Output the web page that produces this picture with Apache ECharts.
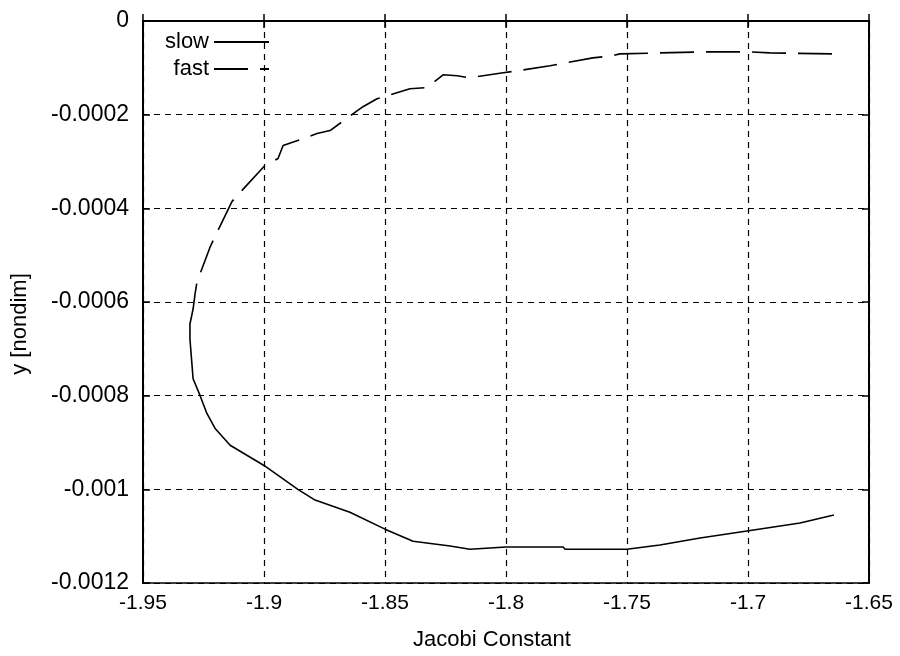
<!DOCTYPE html>
<html>
<head>
<meta charset="utf-8">
<script src="https://cdn.jsdelivr.net/npm/echarts@6/dist/echarts.min.js"></script>
<style>
html,body{margin:0;padding:0;background:#fff;}
#chart{width:900px;height:656px;}
</style>
</head>
<body>
<div id="chart"></div>
<script>
// Jacobi constant (x) and y [nondim] for the "fast" branch (dashed)
var fastX = [-1.6653, -1.6909, -1.6992, -1.7178, -1.7364, -1.7529, -1.7562, -1.7641, -1.7756, -1.7818,
             -1.7955, -1.8012, -1.8095, -1.8149, -1.8202, -1.8260, -1.8302, -1.8335, -1.8397, -1.8533,
             -1.8591, -1.8665, -1.8727, -1.8781, -1.8921, -1.8942, -1.9000, -1.9087, -1.9132, -1.9202,
             -1.9223, -1.9277, -1.9285];
var fastY = [-0.0000702, -0.0000681, -0.0000660, -0.0000660, -0.0000681, -0.0000702, -0.0000745, -0.0000787, -0.0000894, -0.0000957,
             -0.0001064, -0.0001106, -0.0001170, -0.0001213, -0.0001170, -0.0001149, -0.0001319, -0.0001426, -0.0001447, -0.0001660,
             -0.0001830, -0.0002106, -0.0002340, -0.0002404, -0.0002660, -0.0002936, -0.0003106, -0.0003596, -0.0003851, -0.0004596,
             -0.0004830, -0.0005574, -0.0005830];
// "slow" branch (solid)
var slowX = [-1.9285, -1.9293, -1.9306, -1.9306, -1.9293, -1.9264, -1.9236, -1.9202, -1.9140, -1.9000,
             -1.8860, -1.8789, -1.8645, -1.8500, -1.8384, -1.8231, -1.8149, -1.8000, -1.7764, -1.7756,
             -1.7500, -1.7364, -1.7198, -1.7004, -1.6785, -1.6645];
var slowY = [-0.000583, -0.000615, -0.000647, -0.000679, -0.000764, -0.000800, -0.000838, -0.000870, -0.000906, -0.000949,
             -0.001000, -0.001023, -0.001049, -0.001085, -0.001111, -0.001121, -0.001128, -0.001123, -0.001123, -0.001128,
             -0.001128, -0.001119, -0.001104, -0.001089, -0.001072, -0.001055];
var seriesNames = ['slow', 'fast'];
var xName = 'Jacobi Constant';
var yName = 'y [nondim]';

function pairs(xs, ys){ return xs.map(function(x,i){ return [x, ys[i]]; }); }

var FONT = 'Liberation Sans';
var chart = echarts.init(document.getElementById('chart'), null, {renderer:'canvas'});
var gridDash = {color:'#000', type:[6,5], width:1.2};
var legendBase = {orient:'vertical', right:630, align:'right', itemWidth:55, itemHeight:14, padding:0,
  itemStyle:{opacity:0}, textStyle:{fontFamily:FONT, fontSize:22, color:'#000'}};

chart.setOption({
  animation:false,
  backgroundColor:'#fff',
  grid:{left:143, right:31, top:21, bottom:71, show:true, borderColor:'#000', borderWidth:1.5, backgroundColor:'transparent'},
  legend:[
    Object.assign({data:[seriesNames[0]], top:31}, legendBase),
    Object.assign({data:[seriesNames[1]], top:58}, legendBase)
  ],
  xAxis:[{
    type:'value', min:-1.95, max:-1.65, interval:0.05,
    name:xName, nameLocation:'middle', nameGap:46,
    nameTextStyle:{fontFamily:FONT, fontSize:22, color:'#000', padding:[0,28,0,0]},
    axisLine:{lineStyle:{color:'#000', width:2}},
    axisTick:{inside:true, length:7, lineStyle:{color:'#000', width:1.5}},
    axisLabel:{fontFamily:FONT, fontSize:21, color:'#000', margin:10,
      formatter:function(v){ return String(+v.toFixed(2)); }},
    splitLine:{show:true, lineStyle:gridDash}
  },{
    type:'value', position:'top', min:-1.95, max:-1.65, interval:0.05,
    axisLine:{lineStyle:{color:'#000', width:1.5}},
    axisTick:{inside:true, length:7, lineStyle:{color:'#000', width:1.5}},
    axisLabel:{show:false}, splitLine:{show:false}
  }],
  yAxis:[{
    type:'value', min:-0.0012, max:0, interval:0.0002,
    name:yName, nameLocation:'middle', nameGap:112, nameRotate:90,
    nameTextStyle:{fontFamily:FONT, fontSize:22, color:'#000', padding:[0,44,0,0]},
    axisLine:{show:true, lineStyle:{color:'#000', width:2}},
    axisTick:{show:true, inside:true, length:7, lineStyle:{color:'#000', width:1.5}},
    axisLabel:{fontFamily:FONT, fontSize:23, color:'#000', margin:14,
      formatter:function(v){ return v === 0 ? '0' : String(+v.toFixed(4)); }},
    splitLine:{show:true, lineStyle:gridDash}
  },{
    type:'value', position:'right', min:-0.0012, max:0, interval:0.0002,
    axisLine:{show:true, lineStyle:{color:'#000', width:2}},
    axisTick:{show:true, inside:true, length:7, lineStyle:{color:'#000', width:1.5}},
    axisLabel:{show:false}, splitLine:{show:false}
  }],
  series:[
    {name:seriesNames[0], type:'line', data:pairs(slowX, slowY), symbol:'none', smooth:false,
     lineStyle:{color:'#000', width:1.6, type:'solid'}, itemStyle:{color:'#000'}},
    {name:seriesNames[1], type:'line', data:pairs(fastX, fastY), symbol:'none', smooth:false,
     lineStyle:{color:'#000', width:1.6, type:[34,12]}, itemStyle:{color:'#000'}}
  ]
});
</script>
</body>
</html>
